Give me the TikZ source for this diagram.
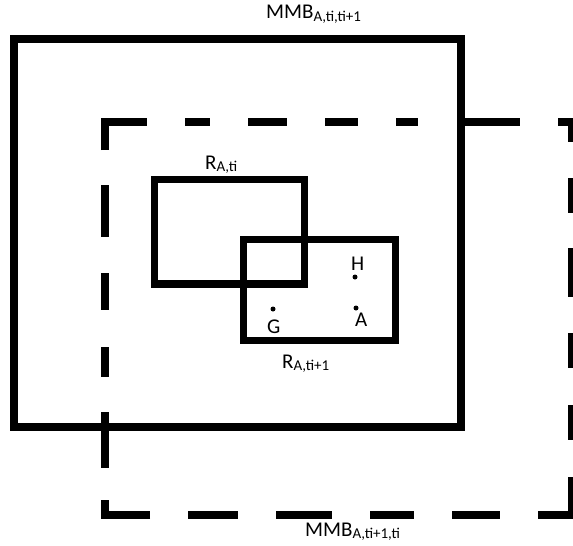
\documentclass[tikz,border=0pt]{standalone}
\usepackage{fontspec}
\setmainfont{Carlito}
\newcommand\mylbl[2]{#1\raisebox{-2pt}{\fontsize{15}{18}\selectfont #2}}
\begin{document}
\begin{tikzpicture}[x=1pt,y=-1pt,
  box/.style={draw=black,line width=7.5pt,line join=miter},
  dsh/.style={draw=black,line width=7.5pt,line cap=butt,line join=miter},
  txt/.style={inner sep=0pt,anchor=base west,text=black,font=\fontsize{21}{25}\selectfont},
  pt/.style={fill=black,circle,inner sep=0pt,minimum size=5pt}]
\useasboundingbox (0,0) rectangle (573,546);
\clip (0,0) rectangle (573,546);
\fill[white] (0,0) rectangle (573,546);
% outer solid rectangle MMB_{A,ti,ti+1}
\draw[box] (14,39) rectangle (461,427);
% R_{A,ti}
\draw[box] (154.5,179.5) rectangle (304.5,284);
% R_{A,ti+1}
\draw[box] (243.5,239.5) rectangle (395.5,340.5);
% dashed rectangle MMB_{A,ti+1,ti}
\draw[dsh] (105,150) -- (105,122) -- (147,122);
\foreach \a/\b in {185/210,248/287,325/358,396/418,457/520}
  \draw[dsh] (\a,122) -- (\b,122);
\draw[dsh] (558,122) -- (572,122) -- (572,142);
\foreach \a/\b in {178/213,248/297,333/368,405/440}
  \draw[dsh] (572,\a) -- (572,\b);
\draw[dsh] (572,477) -- (572,515) -- (538,515);
\foreach \a/\b in {188/238,276/332,370/414,452/500}
  \draw[dsh] (\a,515) -- (\b,515);
\draw[dsh] (150,515) -- (105,515) -- (105,500);
\foreach \a/\b in {185/237,273/310,347/377,412/468}
  \draw[dsh] (105,\a) -- (105,\b);
% points
\node[pt] (h) at (355,277) {};
\node[pt] (a) at (356,308) {};
\node[pt] (g) at (273,309) {};
\node[txt] (hl) at (351,270) {H};
\node[txt] (al) at (355,326) {A};
\node[txt] (gl) at (267,333) {G};
% labels
\node[txt] (mmbtop) at (266,19) {\mylbl{MMB}{A,ti,ti+1}};
\node[txt] (rti) at (205,169) {\mylbl{R}{A,ti}};
\node[txt] (rti1) at (282,368) {\mylbl{R}{A,ti+1}};
\node[txt] (mmbbot) at (305,536) {\mylbl{MMB}{A,ti+1,ti}};
\end{tikzpicture}
\end{document}
